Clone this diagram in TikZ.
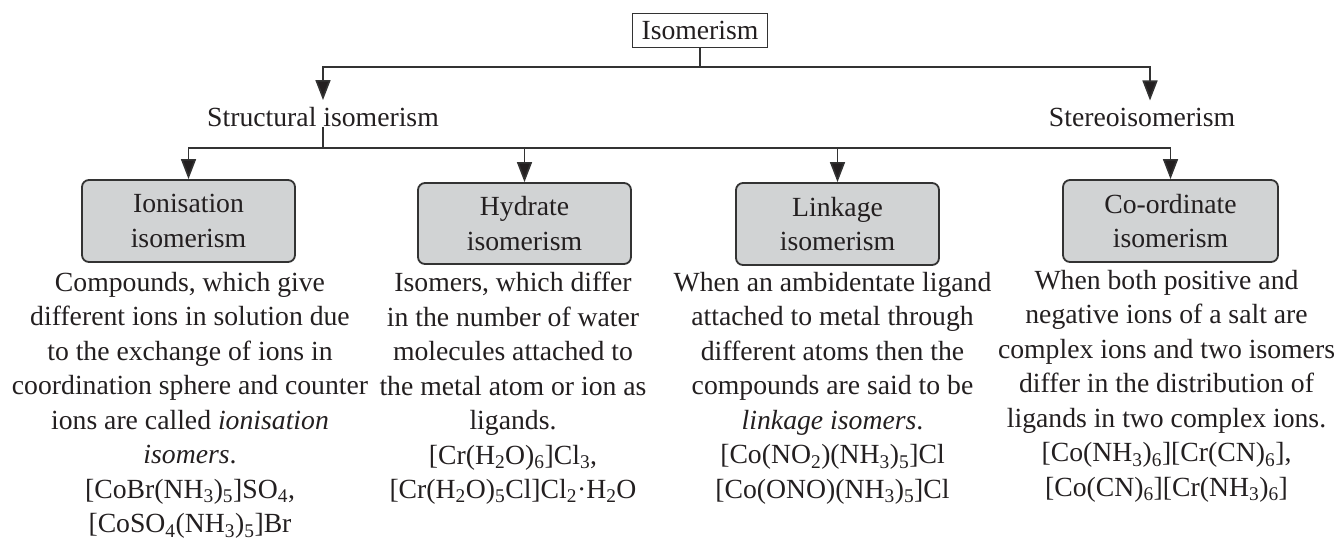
\documentclass[tikz,border=0pt]{standalone}
\usepackage{fontspec}
\setmainfont{Liberation Serif}
\usepackage{xcolor}
\usetikzlibrary{arrows.meta}
\definecolor{ink}{HTML}{231F20}
\definecolor{boxgray}{HTML}{D1D3D4}
\definecolor{linegray}{HTML}{333333}
\newcommand{\subs}[1]{\textsubscript{#1}}

\begin{document}
\begin{tikzpicture}[x=1pt,y=-1pt,
	font=\fontsize{27.7}{34.5}\selectfont, text=ink,
	head/.style={draw=linegray,line width=1.6pt,fill=white,minimum width=135pt,minimum height=34pt,inner sep=0pt},
	kind/.style={draw=linegray,line width=1.8pt,fill=boxgray,rounded corners=7pt,align=center,inner sep=0pt,minimum height=82pt},
	lab/.style={inner sep=0pt},
	desc/.style={align=center,anchor=north,inner sep=0pt},
	link/.style={draw=linegray,line width=1.6pt},
	arr/.style={link,-{Triangle[length=20pt,width=15pt,fill=ink]}}]
\useasboundingbox (0,0) rectangle (1337,539);

\node [head] (iso) at (700,30.5) {Isomerism};
\node [lab] (struct) at (323,117) {Structural isomerism};
\node [lab] (stereo) at (1142,117) {Stereoisomerism};

\node [kind,minimum width=213pt] (ion) at (188.5,221) {Ionisation\\isomerism};
\node [kind,minimum width=213pt,minimum height=81pt] (hyd) at (524.5,223.5) {Hydrate\\isomerism};
\node [kind,minimum width=203pt] (lnk) at (837.5,224) {Linkage\\isomerism};
\node [kind,minimum width=215pt] (coord) at (1170.5,221) {Co-ordinate\\isomerism};

\node [desc] (iondesc) at (190,272) {Compounds, which give\\different ions in solution due\\to the exchange of ions in\\coordination sphere and counter\\ions are called \textit{ionisation}\\\textit{isomers}.\\{}[CoBr(NH\subs{3})\subs{5}]SO\subs{4},\\{}[CoSO\subs{4}(NH\subs{3})\subs{5}]Br};
\node [desc] (hyddesc) at (513,272) {Isomers, which differ\\in the number of water\\molecules attached to\\the metal atom or ion as\\ligands.\\{}[Cr(H\subs{2}O)\subs{6}]Cl\subs{3},\\{}[Cr(H\subs{2}O)\subs{5}Cl]Cl\subs{2}·H\subs{2}O};
\node [desc] (lnkdesc) at (832.5,272) {When an ambidentate ligand\\attached to metal through\\different atoms then the\\compounds are said to be\\\textit{linkage isomers}.\\{}[Co(NO\subs{2})(NH\subs{3})\subs{5}]Cl\\{}[Co(ONO)(NH\subs{3})\subs{5}]Cl};
\node [desc] (coorddesc) at (1166.5,270) {When both positive and\\negative ions of a salt are\\complex ions and two isomers\\differ in the distribution of\\ligands in two complex ions.\\{}[Co(NH\subs{3})\subs{6}][Cr(CN)\subs{6}],\\{}[Co(CN)\subs{6}][Cr(NH\subs{3})\subs{6}]};

\coordinate (top) at (700,67);
\coordinate (mid) at (323,148);
\draw [link] (iso) -- (top);
\draw [arr] (top) -| ([yshift=7pt]struct.north);
\draw [arr] (top) -| ([xshift=8pt,yshift=7pt]stereo.north);
\draw [link] (struct) -- (mid);
\draw [arr] (mid) -| (ion.north);
\draw [arr] (mid) -| (hyd.north);
\draw [arr] (mid) -| (lnk.north);
\draw [arr] (mid) -| (coord.north);
\end{tikzpicture}
\end{document}
